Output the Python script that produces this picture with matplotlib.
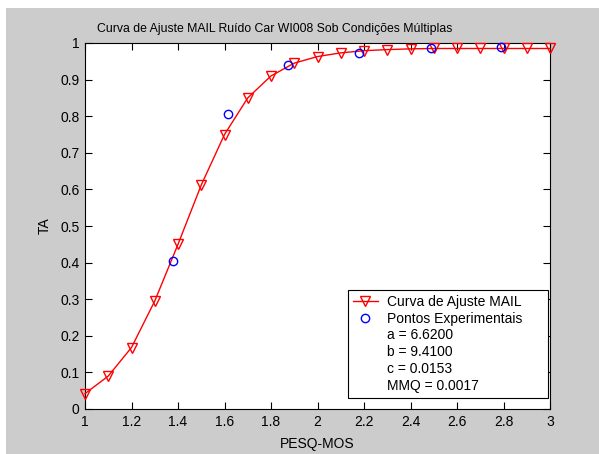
import matplotlib
matplotlib.use("Agg")
import matplotlib.pyplot as plt
from matplotlib.lines import Line2D
from matplotlib.patches import Rectangle

plt.rcParams['font.family'] = ['Liberation Sans', 'DejaVu Sans']

# Fitted curve samples (PESQ-MOS vs TA)
fit_x = [1.0, 1.1, 1.2, 1.3, 1.4, 1.5, 1.6, 1.7, 1.8, 1.9, 2.0,
         2.1, 2.2, 2.3, 2.4, 2.5, 2.6, 2.7, 2.8, 2.9, 3.0]
fit_y = [0.042, 0.090, 0.168, 0.295, 0.450, 0.612, 0.750, 0.850, 0.910, 0.945, 0.963,
         0.973, 0.979, 0.982, 0.984, 0.985, 0.985, 0.985, 0.985, 0.985, 0.985]

# Experimental points
exp_x = [1.38, 1.617, 1.875, 2.18, 2.488, 2.79]
exp_y = [0.404, 0.806, 0.940, 0.973, 0.985, 0.990]

x_ticks = [1, 1.2, 1.4, 1.6, 1.8, 2, 2.2, 2.4, 2.6, 2.8, 3]
x_tick_labels = ['1', '1.2', '1.4', '1.6', '1.8', '2', '2.2', '2.4', '2.6', '2.8', '3']
y_ticks = [0, 0.1, 0.2, 0.3, 0.4, 0.5, 0.6, 0.7, 0.8, 0.9, 1]
y_tick_labels = ['0', '0.1', '0.2', '0.3', '0.4', '0.5', '0.6', '0.7', '0.8', '0.9', '1']

legend_labels = ['Curva de Ajuste MAIL', 'Pontos Experimentais',
                 'a = 6.6200', 'b = 9.4100', 'c = 0.0153', 'MMQ = 0.0017']

W, H = 599, 454
fig = plt.figure(figsize=(W / 100, H / 100), dpi=100)
fig.patch.set_facecolor('white')
fig.patches.append(Rectangle((6 / W, 0), 1 - 6 / W, 1 - 8 / H, transform=fig.transFigure,
                             facecolor='#cccccc', edgecolor='none', zorder=-10))

left, right, top, bottom = 85, 550, 43, 409
aw, ah = right - left, bottom - top
ax = fig.add_axes([left / W, 1 - bottom / H, aw / W, ah / H])
ax.set_facecolor('white')

ax.plot(fit_x, fit_y, color='red', linewidth=1.0, marker='v', markersize=7.5,
        markerfacecolor='none', markeredgecolor='red', markeredgewidth=1.0,
        label=legend_labels[0], clip_on=False, zorder=3)
ax.plot(exp_x, exp_y, linestyle='none', marker='o', markersize=6,
        markerfacecolor='none', markeredgecolor='blue', markeredgewidth=1.0,
        label=legend_labels[1], clip_on=False, zorder=4)

ax.set_xlim(1, 3)
ax.set_ylim(0, 1)
ax.set_xticks(x_ticks)
ax.set_xticklabels(x_tick_labels)
ax.set_yticks(y_ticks)
ax.set_yticklabels(y_tick_labels)
ax.tick_params(direction='in', top=True, right=True, length=5, width=0.8,
               labelsize=10, colors='black', pad=4)
for s in ax.spines.values():
    s.set_linewidth(0.8)
    s.set_color('black')

ax.set_xlabel('PESQ-MOS', fontsize=10, labelpad=6)
ax.set_ylabel('TA', fontsize=10, labelpad=6)
ax.set_title('Curva de Ajuste MAIL Ruído Car WI008 Sob Condições Múltiplas',
             fontsize=8.8, pad=8, x=(275 - left) / aw)

handles = [
    Line2D([], [], color='red', linewidth=1.0, marker='v', markersize=7.5,
           markerfacecolor='none', markeredgecolor='red'),
    Line2D([], [], linestyle='none', marker='o', markersize=6,
           markerfacecolor='none', markeredgecolor='blue'),
]
handles += [Line2D([], [], linestyle='none', marker=None) for _ in range(4)]
leg = ax.legend(handles, legend_labels, loc='lower left', mode='expand',
                bbox_to_anchor=((348 - left) / aw, (bottom - 398) / ah,
                                (548 - 348) / aw, 0.2),
                borderaxespad=0, fontsize=10,
                frameon=True, fancybox=False, edgecolor='black', framealpha=1,
                handlelength=1.75, handletextpad=0.65,
                labelspacing=0.2, borderpad=0.38)
leg.get_frame().set_linewidth(0.8)

fig.savefig('out.png', dpi=100, facecolor=fig.get_facecolor())
